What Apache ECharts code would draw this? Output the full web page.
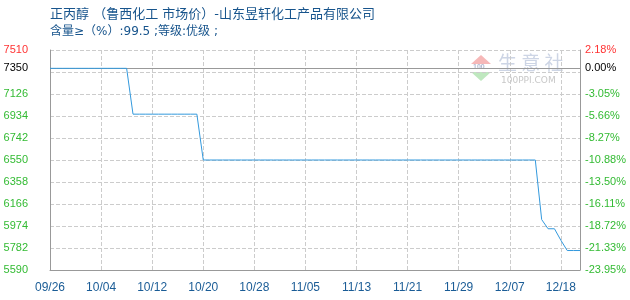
<!DOCTYPE html>
<html>
<head>
<meta charset="utf-8">
<script src="https://cdn.jsdelivr.net/npm/echarts@6/dist/echarts.min.js"></script>
<style>html,body{margin:0;padding:0;background:#fff;}#c{width:630px;height:300px;}</style>
</head>
<body>
<div id="c"></div>
<script>
var titleLine1 = '正丙醇 （鲁西化工 市场价）-山东昱轩化工产品有限公司';
var titleLine2 = '含量≥（%）:99.5 ;等级:优级 ;';
var dates = [
 '09/26','09/27','09/28','09/29','09/30','10/01','10/02','10/03','10/04','10/05',
 '10/06','10/07','10/08','10/09','10/10','10/11','10/12','10/13','10/14','10/15',
 '10/16','10/17','10/18','10/19','10/20','10/21','10/22','10/23','10/24','10/25',
 '10/26','10/27','10/28','10/29','10/30','10/31','11/01','11/02','11/03','11/04',
 '11/05','11/06','11/07','11/08','11/09','11/10','11/11','11/12','11/13','11/14',
 '11/15','11/16','11/17','11/18','11/19','11/20','11/21','11/22','11/23','11/24',
 '11/25','11/26','11/27','11/28','11/29','11/30','12/01','12/02','12/03','12/04',
 '12/05','12/06','12/07','12/08','12/09','12/12','12/13','12/14','12/15','12/16',
 '12/18','12/19','12/20','12/21'
];
var prices = [
 7350,7350,7350,7350,7350,7350,7350,7350,7350,7350,
 7350,7350,7350,6950,6950,6950,6950,6950,6950,6950,
 6950,6950,6950,6950,6550,6550,6550,6550,6550,6550,
 6550,6550,6550,6550,6550,6550,6550,6550,6550,6550,
 6550,6550,6550,6550,6550,6550,6550,6550,6550,6550,
 6550,6550,6550,6550,6550,6550,6550,6550,6550,6550,
 6550,6550,6550,6550,6550,6550,6550,6550,6550,6550,
 6550,6550,6550,6550,6550,6550,6550,6030,5950,5950,
 5850,5760,5760,5760
];
var basePrice = 7350;
var yMin = 5590, yMax = 7510, yStep = 192;
var hiddenTick = 7318;

var chart = echarts.init(document.getElementById('c'), null, {renderer: 'canvas'});
var labelFont = 'Liberation Sans, Arial, sans-serif';
function lblColor(v) {
  v = Number(v);
  if (v === yMax) return '#ff3333';
  return '#33bb33';
}
function pct(v) { return ((v - basePrice) / basePrice * 100).toFixed(2) + '%'; }

chart.setOption({
  animation: false,
  grid: {left: 50, right: 50, top: 50, bottom: 30, containLabel: false},
  graphic: [
    {type: 'text', left: 50, top: 8, style: {text: titleLine1, fill: '#17548c', font: '13px "DejaVu Sans", "Noto Sans CJK SC", sans-serif'}},
    {type: 'text', left: 50, top: 26, style: {text: titleLine2, fill: '#17548c', font: '12px "DejaVu Sans", "Noto Sans CJK SC", sans-serif'}},
    {type: 'polygon', shape: {points: [[481,55],[471,64],[491,64]]}, style: {fill: '#f6b8b8'}, z: 0},
    {type: 'polygon', shape: {points: [[471,72],[491,72],[481,81]]}, style: {fill: '#bfe8bf'}, z: 0},
    {type: 'text', x: 473, y: 64, style: {text: '100', fill: '#b0b8d0', font: 'bold 7px sans-serif'}, z: 0},
    {type: 'text', x: 498, y: 53, style: {text: '生 意 社', fill: '#cdd5e5', font: '19px "Noto Sans CJK SC", sans-serif'}, z: 0},
    {type: 'text', x: 501, y: 76, style: {text: '100PPI.COM', fill: '#c8c8c8', font: '9px "DejaVu Sans", sans-serif'}, z: 0}
  ],
  xAxis: {
    type: 'category', data: dates, boundaryGap: false,
    axisLine: {lineStyle: {color: '#999', width: 1}},
    axisTick: {show: false},
    axisLabel: {interval: 7, color: '#1a5c96', fontSize: 12, fontFamily: labelFont, margin: 12},
    splitLine: {show: true, interval: 7, lineStyle: {color: '#ccc', type: 'dashed', width: 1}}
  },
  yAxis: [
    {
      type: 'value', min: yMin, max: yMax, interval: yStep, position: 'left',
      axisLine: {show: true, lineStyle: {color: '#999', width: 1}},
      axisTick: {show: false},
      axisLabel: {color: lblColor, fontSize: 11, fontFamily: labelFont, margin: 22,
        formatter: function (v) { return v === hiddenTick ? '' : String(v); }},
      splitLine: {show: true, lineStyle: {color: '#ccc', type: 'dashed', width: 1}}
    },
    {
      type: 'value', min: yMin, max: yMax, interval: yStep, position: 'right',
      axisLine: {show: true, lineStyle: {color: '#999', width: 1}},
      axisTick: {show: false},
      axisLabel: {color: lblColor, fontSize: 11, fontFamily: labelFont, margin: 5,
        formatter: function (v) { return v === hiddenTick ? '' : pct(v); }},
      splitLine: {show: false}
    }
  ],
  series: [
    {
      type: 'line', data: prices, z: 1, symbol: 'none', silent: true,
      lineStyle: {opacity: 0},
      markLine: {
        symbol: 'none', silent: true, animation: false,
        lineStyle: {color: '#999', type: 'solid', width: 1},
        data: [
          {yAxis: basePrice, label: {position: 'start', distance: 22, formatter: String(basePrice), color: '#000', fontSize: 11, fontFamily: labelFont}},
          {yAxis: basePrice, label: {position: 'end', distance: 5, formatter: pct(basePrice), color: '#000', fontSize: 11, fontFamily: labelFont}}
        ]
      }
    },
    {
      type: 'line', data: prices, z: 5, symbol: 'none', showSymbol: false,
      lineStyle: {color: '#3399dd', width: 1}
    }
  ]
});
</script>
</body>
</html>
